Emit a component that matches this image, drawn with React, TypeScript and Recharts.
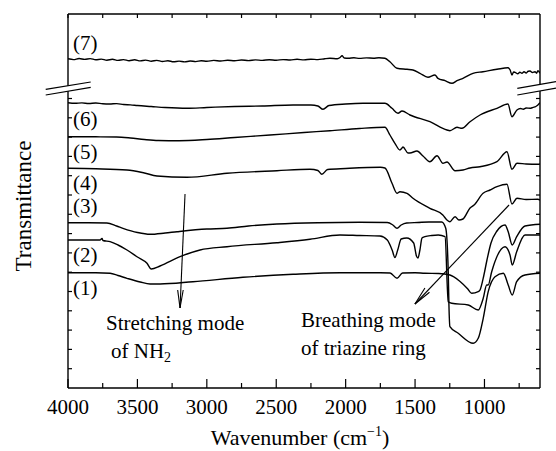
import { Line, LineChart, ReferenceLine, XAxis, YAxis } from "recharts";

// spectra, [wavenumber cm-1, transmittance (offset, arb. units)]
const curve1: [number, number][] = [
  [4000, 115.3], [3800, 115.3], [3697, 114.7], [3640, 112.5], [3575, 109.7], [3480, 106], [3409, 104],
  [3337, 104], [3100, 106.3], [2740, 110.7], [2379, 113.7], [2041, 115.3], [1750, 115.3], [1680, 115],
  [1630, 109.7], [1590, 115], [1500, 115.3], [1429, 114.7], [1330, 114.5], [1249, 113], [1180, 107],
  [1120, 99], [1092, 94.7], [1045, 96.3], [1032, 98], [1004, 113], [982, 128], [953, 145], [910, 157],
  [852, 163], [829, 156.3], [800, 143], [768, 151.3], [708, 162], [600, 163.7],
];
const curve2: [number, number][] = [
  [4000, 148], [3770, 148], [3755, 149.5], [3748, 147.5], [3697, 146.3], [3640, 143], [3575, 138],
  [3500, 131], [3431, 124.7], [3400, 119], [3337, 122], [3193, 131.3], [3049, 138], [2855, 141.3],
  [2495, 145.3], [2257, 148.7], [2041, 153], [1900, 152.5], [1753, 152], [1700, 148], [1665, 138],
  [1645, 130.5], [1625, 138], [1600, 149], [1560, 150], [1510, 145], [1490, 132], [1479, 130],
  [1465, 138], [1450, 150], [1429, 151.3], [1380, 152.5], [1333, 153], [1284, 151.3], [1261, 86.3],
  [1236, 84.7], [1117, 83], [1045, 78], [1009, 89.7], [984, 103], [973, 103], [948, 116.3],
  [852, 141.3], [816, 133], [800, 123], [768, 136.3], [708, 153], [600, 153],
];
const curve3: [number, number][] = [
  [4000, 165.3], [3850, 165.3], [3720, 165], [3650, 162], [3604, 159.7], [3500, 155.5], [3409, 153.7],
  [3300, 155], [3215, 156.3], [3000, 159], [2855, 159.7], [2700, 162], [2495, 164], [2200, 165.3],
  [1900, 165.7], [1700, 165.5], [1660, 163], [1630, 159.7], [1600, 163], [1560, 165], [1480, 165.5],
  [1400, 166], [1308, 166], [1279, 159.7], [1261, 116.3], [1256, 83], [1249, 61.3], [1189, 54.7],
  [1081, 44.7], [1045, 49.7], [1009, 69.7], [973, 96.3], [924, 111.3], [864, 114.7], [829, 103],
  [800, 93], [768, 106.3], [708, 113], [600, 114.7],
];
const curve4: [number, number][] = [
  [4000, 219.7], [3800, 219.2], [3575, 218], [3450, 215], [3359, 212], [3143, 210.7], [2855, 214.7],
  [2495, 217.3], [2257, 218.7], [2200, 217.5], [2171, 213.7], [2130, 218.5], [2000, 219.5],
  [1750, 220.7], [1717, 220], [1666, 204.7], [1630, 194.7], [1609, 196.3], [1558, 194.7],
  [1515, 189.7], [1393, 179.7], [1300, 173], [1270, 168], [1249, 166.3], [1212, 171.3], [1184, 168],
  [1155, 169], [1104, 180], [1075, 183], [1010, 194.7], [960, 198], [910, 201.3], [838, 203.7],
  [802, 184], [766, 189.7], [700, 188.5], [615, 188.7], [600, 188],
];
const curve5: [number, number][] = [
  [4000, 251.3], [3800, 251.2], [3650, 251], [3550, 250], [3450, 248.5], [3350, 247.5], [3200, 247.3],
  [3000, 248.5], [2800, 250.5], [2545, 253], [2300, 255.5], [2113, 257.3], [1900, 259.5],
  [1717, 260.7], [1681, 253], [1645, 244.7], [1609, 238], [1594, 240], [1587, 241], [1551, 235],
  [1537, 235], [1486, 237], [1443, 232], [1393, 226.3], [1342, 232.3], [1299, 224.7], [1270, 226],
  [1212, 217.3], [1155, 218], [1104, 220], [1032, 221.3], [910, 226.3], [838, 236.3], [802, 218.7],
  [766, 224.7], [700, 224], [615, 223.7], [600, 224],
];
const curve6: [number, number][] = [
  [4000, 285.3], [3950, 284.7], [3900, 285.1], [3850, 284.5], [3800, 285], [3750, 284.2], [3700, 284],
  [3650, 284.4], [3600, 283.5], [3550, 283.1], [3500, 282.5], [3400, 281.5], [3300, 280.5],
  [3143, 279.7], [3000, 280.5], [2800, 281.5], [2600, 282], [2379, 283], [2250, 283], [2200, 282],
  [2163, 278.7], [2120, 282.5], [2000, 284], [1875, 284.7], [1717, 284.7], [1666, 279.7],
  [1623, 274.7], [1594, 277], [1537, 273], [1393, 266.3], [1270, 258], [1249, 257.3], [1198, 260.7],
  [1162, 259.7], [1104, 266.3], [1032, 273], [910, 279.7], [831, 284], [802, 271.3], [766, 278],
  [740, 279.5], [720, 278.8], [700, 280], [672, 279.7], [650, 280.6], [630, 281.5], [615, 283],
  [600, 285.3],
];
const curve7: [number, number][] = [
  [4000, 329.2], [3960, 328.4], [3920, 329.5], [3880, 328.6], [3840, 329.4], [3800, 328.2],
  [3760, 328.9], [3720, 327.8], [3680, 328.7], [3640, 327.6], [3600, 328.4], [3560, 327.3],
  [3520, 328.2], [3480, 327.1], [3440, 327.9], [3400, 326.8], [3360, 327.6], [3320, 326.5],
  [3280, 327.3], [3240, 326.2], [3200, 326.9], [3160, 326.1], [3120, 327], [3080, 326.4],
  [3040, 327.3], [3000, 326.7], [2950, 327.6], [2900, 327], [2850, 327.8], [2800, 327.2],
  [2750, 328], [2700, 327.4], [2650, 328.1], [2600, 327.6], [2550, 328.3], [2500, 327.8],
  [2450, 328.4], [2400, 328], [2350, 328.7], [2300, 328.1], [2250, 328.8], [2200, 328.4],
  [2150, 329.3], [2113, 329.7], [2060, 329.3], [2040, 330.5], [2026, 332.3], [2010, 330],
  [1980, 329.8], [1940, 330.2], [1900, 329.6], [1850, 330.1], [1800, 329.8], [1760, 330.2],
  [1717, 329.7], [1681, 326.3], [1630, 319.7], [1558, 318.7], [1515, 318], [1465, 314.7],
  [1407, 310.7], [1357, 313], [1335, 309.7], [1284, 307.3], [1234, 304.7], [1198, 307.3],
  [1155, 309.7], [1083, 314.7], [1011, 316.3], [910, 318.7], [831, 320.3], [815, 318], [802, 313],
  [790, 316], [780, 315.7], [760, 314.3], [745, 315.8], [730, 314.7], [715, 316.2], [700, 315],
  [685, 316.8], [672, 317], [655, 315.5], [636, 316.3], [625, 314.8], [615, 317.3], [605, 316],
  [600, 314.7],
];

const curves = [curve1, curve2, curve3, curve4, curve5, curve6, curve7];
const curveLabels = ["(1)", "(2)", "(3)", "(4)", "(5)", "(6)", "(7)"];
const labelBaselines = [294.5, 262, 212.5, 190, 159, 125.5, 49.5];

const xTicks = [4000, 3750, 3500, 3250, 3000, 2750, 2500, 2250, 2000, 1750, 1500, 1250, 1000, 750];
const xMajor = [4000, 3500, 3000, 2500, 2000, 1500, 1000];
const yTicks = [19.3, 38.6, 57.9, 77.2, 96.5, 115.8, 135.1, 154.4, 173.7, 193, 212.3, 231.6, 250.9, 270.2, 289.5];

// arrows: [tail, tip, wing a, wing b] in data coordinates
const nhArrow: [number, number][] = [[3157, 194], [3193, 80], [3210, 98], [3170, 98]];
const ringArrow: [number, number][] = [[823, 183], [1501, 84], [1396, 95.7], [1429, 100]];

const FONT = '"Liberation Serif", "Times New Roman", "DejaVu Serif", serif';
const txt = { fontFamily: FONT, fill: "#000" };

const toRows = (c: [number, number][]) => c.map(([w, v]) => ({ w, v }));

const BottomTick = (props: any) => {
  const { x, y, payload } = props;
  const major = xMajor.includes(payload.value);
  return (
    <g>
      <line x1={x} x2={x} y1={y} y2={y - (major ? 9 : 5)} stroke="#000" strokeWidth={1.2} />
      {major && (
        <text x={x} y={y + 26} textAnchor="middle" fontSize={21} fontFamily={FONT} style={txt}>
          {payload.value}
        </text>
      )}
    </g>
  );
};

const TopTick = (props: any) => {
  const { x, y } = props;
  return <line x1={x} x2={x} y1={y} y2={y + 4} stroke="#000" strokeWidth={1.2} />;
};

const LeftTick = (props: any) => {
  const { x, y } = props;
  return <line x1={x} x2={x + 4} y1={y} y2={y} stroke="#000" strokeWidth={1.2} />;
};

const RightTick = (props: any) => {
  const { x, y } = props;
  return <line x1={x} x2={x - 4} y1={y} y2={y} stroke="#000" strokeWidth={1.2} />;
};

const arrowLines = (a: [number, number][], key: string) =>
  [1, 2, 3].map((i) => (
    <ReferenceLine
      key={`${key}-${i}`}
      xAxisId="b"
      yAxisId="l"
      ifOverflow="visible"
      segment={[
        { x: a[i === 1 ? 0 : 1][0], y: a[i === 1 ? 0 : 1][1] },
        { x: a[i === 1 ? 1 : i][0], y: a[i === 1 ? 1 : i][1] },
      ]}
      stroke="#000"
      strokeWidth={1.1}
    />
  ));

const axisStyle = { stroke: "#000", strokeWidth: 1.4 };

export default function App() {
  return (
    <div
      style={{
        position: "absolute",
        left: 0,
        top: 0,
        width: 556,
        height: 451,
        background: "#fff",
        fontFamily: FONT,
      }}
    >
      <LineChart width={556} height={451} margin={{ top: 13, right: 15, bottom: 62, left: 67 }}>
        <XAxis
          xAxisId="b"
          type="number"
          dataKey="w"
          domain={[600, 4000]}
          reversed
          allowDataOverflow
          ticks={xTicks}
          interval={0}
          height={1}
          tickSize={0}
          tickMargin={0}
          tickLine={false}
          axisLine={axisStyle}
          tick={(p: any) => <BottomTick {...p} />}
        />
        <XAxis
          xAxisId="t"
          orientation="top"
          type="number"
          dataKey="w"
          domain={[600, 4000]}
          reversed
          allowDataOverflow
          ticks={xTicks}
          interval={0}
          height={1}
          tickSize={0}
          tickMargin={0}
          tickLine={false}
          axisLine={axisStyle}
          tick={(p: any) => <TopTick {...p} />}
        />
        <YAxis
          yAxisId="l"
          type="number"
          domain={[0, 374]}
          allowDataOverflow
          ticks={yTicks}
          interval={0}
          width={1}
          tickSize={0}
          tickMargin={0}
          tickLine={false}
          axisLine={axisStyle}
          tick={(p: any) => <LeftTick {...p} />}
        />
        <YAxis
          yAxisId="r"
          orientation="right"
          type="number"
          domain={[0, 374]}
          allowDataOverflow
          ticks={yTicks}
          interval={0}
          width={1}
          tickSize={0}
          tickMargin={0}
          tickLine={false}
          axisLine={axisStyle}
          tick={(p: any) => <RightTick {...p} />}
        />
        {curves.map((c, i) => (
          <Line
            key={curveLabels[i]}
            data={toRows(c)}
            dataKey="v"
            xAxisId="b"
            yAxisId="l"
            type="monotone"
            stroke="#000"
            strokeWidth={1.4}
            dot={false}
            activeDot={false}
            isAnimationActive={false}
          />
        ))}
        {arrowLines(nhArrow, "nh")}
        {arrowLines(ringArrow, "ring")}
      </LineChart>
      <svg
        width={556}
        height={451}
        fontFamily={FONT}
        style={{ position: "absolute", left: 0, top: 0, pointerEvents: "none" }}
      >
        {/* axis breaks */}
        <polygon points="45,89.6 91,82 91,87.4 45,95" fill="#fff" />
        <line x1={45.7} y1={89.3} x2={90.7} y2={82} stroke="#000" strokeWidth={1.2} />
        <line x1={45.7} y1={95} x2={90.7} y2={87.3} stroke="#000" strokeWidth={1.2} />
        <polygon points="517,88.4 556,81.6 556,88.2 517,95.1" fill="#fff" />
        <line x1={517.3} y1={88.3} x2={556} y2={81.6} stroke="#000" strokeWidth={1.2} />
        <line x1={517.3} y1={95} x2={556} y2={88.2} stroke="#000" strokeWidth={1.2} />

        {curveLabels.map((t, i) => (
          <text key={t} x={73} y={labelBaselines[i]} fontSize={21} fontFamily={FONT} style={txt}>
            {t}
          </text>
        ))}

        <text x={106} y={330} fontSize={21} fontFamily={FONT} style={txt}>Stretching mode</text>
        <text x={111} y={358} fontSize={21} fontFamily={FONT} style={txt}>
          of NH<tspan fontSize={14} dy={4}>2</tspan>
        </text>
        <text x={301} y={327} fontSize={21} fontFamily={FONT} style={txt}>Breathing mode</text>
        <text x={301} y={355} fontSize={21} fontFamily={FONT} style={txt}>of triazine ring</text>

        <text x={300} y={445} fontSize={22} textAnchor="middle" fontFamily={FONT} style={txt}>
          Wavenumber (cm<tspan fontSize={14} dy={-9}>−1</tspan>
          <tspan dy={9}>)</tspan>
        </text>
        <text
          transform="translate(31,206) rotate(-90)"
          fontSize={23}
          textAnchor="middle"
          fontFamily={FONT}
          style={txt}
        >
          Transmittance
        </text>
      </svg>
    </div>
  );
}
